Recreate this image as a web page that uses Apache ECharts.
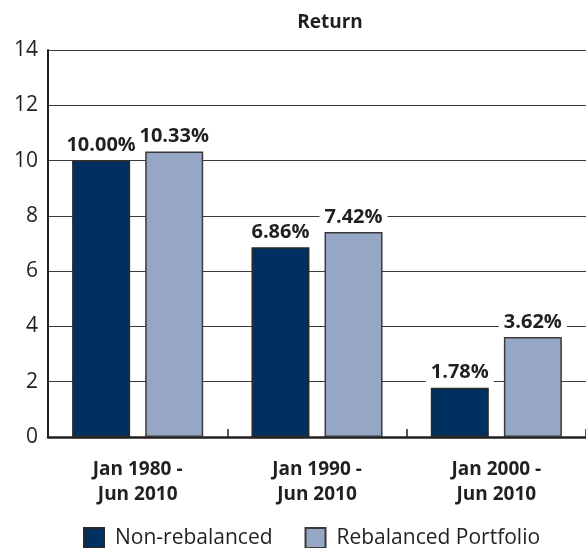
<!DOCTYPE html>
<html>
<head>
<meta charset="utf-8">
<script src="https://cdn.jsdelivr.net/npm/echarts@6/dist/echarts.min.js"></script>
<style>html,body{margin:0;padding:0;background:#fff;}#c{width:586px;height:548px;}</style>
</head>
<body>
<div id="c"></div>
<script>
var categories = ['Jan 1980 -\nJun 2010', 'Jan 1990 -\nJun 2010', 'Jan 2000 -\nJun 2010'];
var nonRebalanced = [10.00, 6.86, 1.78];
var rebalanced = [10.33, 7.42, 3.62];
var seriesNames = ['Non-rebalanced', 'Rebalanced Portfolio'];
var titleText = 'Return';

var FONT = '"Open Sans", "Noto Sans", sans-serif';
var TXT = '#231f20';

var chart = echarts.init(document.getElementById('c'), null, {renderer: 'canvas'});

function labelCfg() {
  return {
    show: true,
    position: 'top',
    distance: 5,
    fontFamily: FONT,
    fontWeight: 'bold',
    fontSize: 20,
    color: TXT,
    backgroundColor: '#fff',
    padding: [0, 5, 0, 5],
    formatter: function (p) { return p.value.toFixed(2) + '%'; }
  };
}

chart.setOption({
  animation: false,
  title: {
    text: titleText,
    left: 325,
    textAlign: 'center',
    top: 8,
    textStyle: {fontFamily: FONT, fontWeight: 'bold', fontSize: 19, color: TXT}
  },
  grid: {left: 48, right: -2, top: 50, bottom: 111, containLabel: false},
  legend: {
    left: 83,
    top: 527,
    padding: 0,
    itemWidth: 20,
    itemHeight: 20,
    itemGap: 32,
    icon: 'rect',
    textStyle: {fontFamily: FONT, fontSize: 21, color: TXT, padding: [0, 0, 0, 6]},
    data: seriesNames
  },
  xAxis: {
    type: 'category',
    data: categories,
    axisLine: {show: true, lineStyle: {color: TXT, width: 2.5}},
    axisTick: {show: true, inside: true, length: 8, lineStyle: {color: TXT, width: 1.5}},
    axisLabel: {
      fontFamily: FONT, fontWeight: 'bold', fontSize: 19, color: TXT,
      lineHeight: 25, margin: 20
    },
    splitLine: {show: false}
  },
  yAxis: {
    type: 'value',
    min: 0,
    max: 14,
    interval: 2,
    axisLine: {show: true, lineStyle: {color: TXT, width: 2}},
    axisTick: {show: false},
    axisLabel: {fontFamily: FONT, fontSize: 21, color: TXT, margin: 10},
    splitLine: {show: true, lineStyle: {color: '#3a3a3a', width: 1}}
  },
  series: [
    {
      name: seriesNames[0],
      type: 'bar',
      data: nonRebalanced,
      barWidth: 58,
      barGap: '26%',
      itemStyle: {color: '#00305f', borderColor: '#2a2a2a', borderWidth: 1.5},
      label: labelCfg()
    },
    {
      name: seriesNames[1],
      type: 'bar',
      data: rebalanced,
      barWidth: 58,
      barGap: '26%',
      itemStyle: {color: '#96a6c5', borderColor: '#3a3a3a', borderWidth: 1.5},
      label: labelCfg()
    }
  ]
});
</script>
</body>
</html>
